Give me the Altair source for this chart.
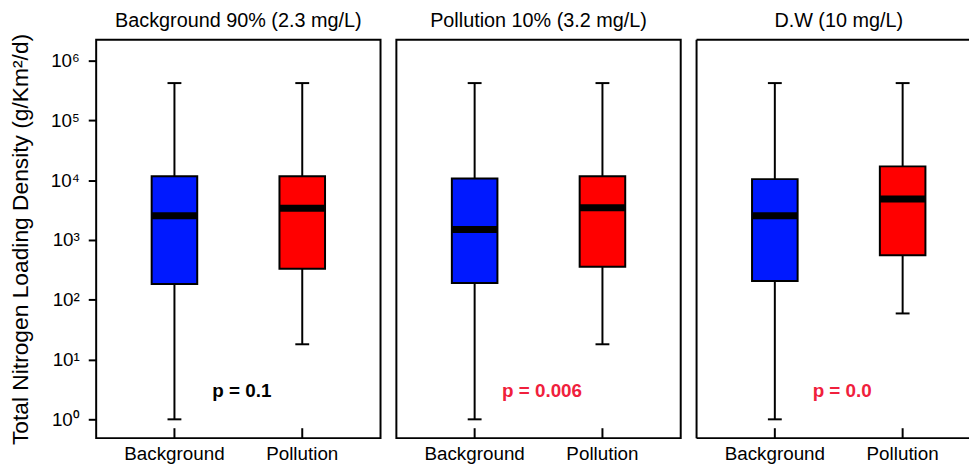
import altair as alt
import pandas as pd

FONT = "Liberation Sans"

panels = ["Background 90% (2.3 mg/L)", "Pollution 10% (3.2 mg/L)", "D.W (10 mg/L)"]
groups = ["Background", "Pollution"]
# per panel: [Background, Pollution]
mins = [[1.0, 18.0], [1.0, 18.0], [1.0, 59.0]]
q1s = [[184.0, 329.0], [190.0, 355.0], [206.0, 555.0]]
medians = [[2540.0, 3400.0], [1490.0, 3460.0], [2540.0, 4850.0]]
q3s = [[11600.0, 11600.0], [10700.0, 11600.0], [10400.0, 17000.0]]
maxs = [[420000.0, 420000.0], [420000.0, 420000.0], [420000.0, 420000.0]]
p_labels = ["0.1", "0.006", "0.0"]
y_tick_values = [1, 10, 100, 1000, 10000, 100000, 1000000]

W, H = 287, 402          # full panel size
W_LAST = 275             # last panel is cut off at the right edge of the figure
SPACING = 12


def panel_df(i):
    return pd.DataFrame({
        "group": groups,
        "lo": mins[i], "q1": q1s[i], "med": medians[i], "q3": q3s[i], "hi": maxs[i],
        "p": [p_labels[i]] * len(groups),
    })


y_scale = alt.Scale(type="log", domain=[0.485, 2.22e6], nice=False)
y_axis = alt.Axis(values=y_tick_values, grid=False, domain=False,
                  tickSize=8, tickWidth=2, tickColor="black",
                  labelFontSize=19, labelPadding=9, labelColor="black", labelFont=FONT,
                  labelExpr="'10' + ['⁰','¹','²','³','⁴','⁵','⁶'][round(log(datum.value)/LN10)]",
                  title="Total Nitrogen Loading Density (g/Km²/d)",
                  titleFontSize=23, titleFontWeight="normal", titleColor="black",
                  titleFont=FONT, titlePadding=18)


def make_panel(i, width, show_y, last):
    base = alt.Chart(panel_df(i))
    x = alt.X("group:N", sort=groups,
              scale=alt.Scale(domain=groups, range=[0, W], paddingInner=0, paddingOuter=0.1124),
              axis=None)
    y_enc = alt.Y("lo:Q", scale=y_scale, axis=y_axis if show_y else None)

    whisker = base.mark_rule(color="black", strokeWidth=2).encode(x=x, y=y_enc, y2="hi:Q")
    box = base.mark_bar(size=46, stroke="black", strokeWidth=2, opacity=1).encode(
        x=x, y="q1:Q", y2="q3:Q",
        color=alt.Color("group:N", scale=alt.Scale(domain=groups, range=["#0019ff", "#ff0000"]),
                        legend=None))
    median = base.mark_tick(size=46, thickness=7, color="black", opacity=1).encode(x=x, y="med:Q")
    cap_hi = base.mark_tick(size=14, thickness=2, color="black", opacity=1).encode(x=x, y="hi:Q")
    cap_lo = base.mark_tick(size=14, thickness=2, color="black", opacity=1).encode(x=x, y="lo:Q")
    xticks = base.mark_rule(color="black", strokeWidth=2).encode(
        x=x, y=alt.value(H), y2=alt.value(H - 10))
    xlabels = base.mark_text(fontSize=19, font=FONT, color="black", baseline="top",
                             align="center").encode(x=x, y=alt.value(H + 7), text="group:N")
    ptext = base.transform_filter("datum.group == 'Background'").transform_calculate(
        label="'p = ' + datum.p", pnum="toNumber(datum.p)"
    ).mark_text(fontSize=19, fontWeight="bold", font=FONT, baseline="middle").encode(
        x=alt.value(147), y=alt.datum(3), text="label:N",
        color=alt.condition("datum.pnum < 0.05", alt.value("#f0203c"), alt.value("black")))

    one = base.transform_filter("datum.group == 'Background'")
    title = one.mark_text(text=panels[i], fontSize=20, font=FONT, color="black",
                          baseline="alphabetic", align="center").encode(
        x=alt.value(W / 2), y=alt.value(-13))
    if last:
        frame = [
            one.mark_rule(color="black", strokeWidth=2).encode(
                x=alt.value(0), x2=alt.value(width), y=alt.value(0)),
            one.mark_rule(color="black", strokeWidth=2).encode(
                x=alt.value(0), x2=alt.value(width), y=alt.value(H)),
            one.mark_rule(color="black", strokeWidth=2).encode(
                x=alt.value(0), y=alt.value(0), y2=alt.value(H)),
        ]
    else:
        frame = [one.mark_rect(filled=False, stroke="black", strokeWidth=2).encode(
            x=alt.value(0), x2=alt.value(width), y=alt.value(0), y2=alt.value(H))]

    return alt.layer(whisker, box, median, cap_hi, cap_lo, xticks, xlabels, ptext, title,
                     *frame).properties(width=width, height=H)


chart = alt.hconcat(
    make_panel(0, W, True, False),
    make_panel(1, W, False, False),
    make_panel(2, W_LAST, False, True),
    spacing=SPACING,
).properties(
    padding={"left": 1, "top": 0, "right": 0, "bottom": 0}
).configure(font=FONT).configure_view(stroke="transparent")

chart.save("out.html", embed_options={"renderer": "svg", "actions": False})
